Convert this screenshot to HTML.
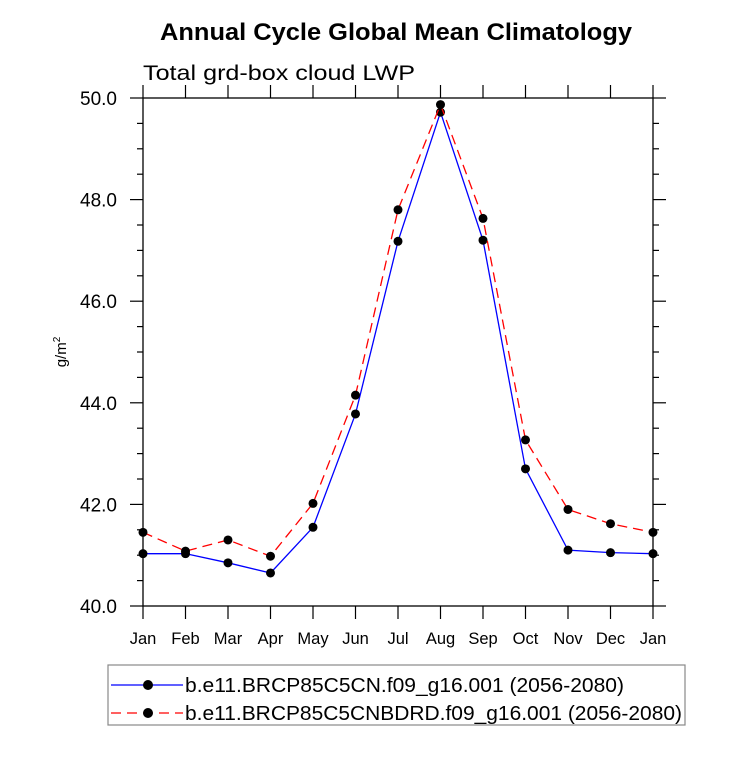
<!DOCTYPE html>
<html><head><meta charset="utf-8"><style>
body{margin:0;background:#fff}
svg text{font-family:"Liberation Sans",Arial,sans-serif}
</style></head><body>
<svg id="chart" width="733" height="754" xmlns="http://www.w3.org/2000/svg">
<text x="160" y="40" textLength="472" lengthAdjust="spacingAndGlyphs" font-size="24" font-weight="bold">Annual Cycle Global Mean Climatology</text>
<text x="143" y="80" textLength="272" lengthAdjust="spacingAndGlyphs" font-size="21">Total grd-box cloud LWP</text>
<text transform="translate(66,352) rotate(-90)" text-anchor="middle" font-size="15">g/m<tspan dy="-6" font-size="10">2</tspan></text>
<g id="axes"></g><g id="series"></g>
<rect x="108" y="665" width="577" height="60" fill="none" stroke="#888" stroke-width="1.2"/>
<g>
<line x1="111" y1="685" x2="183" y2="685" stroke="#0000ff" stroke-width="1.3"/>
<circle cx="148" cy="685" r="5" fill="#000"/>
<text x="185" y="692" textLength="439" lengthAdjust="spacingAndGlyphs" font-size="20">b.e11.BRCP85C5CN.f09_g16.001 (2056-2080)</text></g>
<g>
<line x1="111" y1="713" x2="183" y2="713" stroke="#ff0000" stroke-width="1.3" stroke-dasharray="10,6"/>
<circle cx="148" cy="713" r="5" fill="#000"/>
<text x="185" y="720" textLength="497" lengthAdjust="spacingAndGlyphs" font-size="20">b.e11.BRCP85C5CNBDRD.f09_g16.001 (2056-2080)</text></g>
</svg>
<script>
const months=["Jan","Feb","Mar","Apr","May","Jun","Jul","Aug","Sep","Oct","Nov","Dec","Jan"];
const blueVals=[41.03,41.03,40.85,40.65,41.55,43.78,47.18,49.72,47.2,42.7,41.1,41.05,41.03];
const redVals=[41.45,41.08,41.3,40.98,42.02,44.15,47.8,49.87,47.63,43.27,41.9,41.62,41.45];
const yTicks=[40,42,44,46,48,50];
const NS="http://www.w3.org/2000/svg";
const L=143,R=653,T=98,B=606,ymin=40,ymax=50;
const xs=i=>L+i*(R-L)/12;
const ys=v=>B-(v-ymin)/(ymax-ymin)*(B-T);
function mk(tag,attrs,parent){const e=document.createElementNS(NS,tag);for(const k in attrs)e.setAttribute(k,attrs[k]);parent.appendChild(e);return e;}
const ax=document.getElementById('axes');
const fr=mk('rect',{x:L,y:T,width:R-L,height:B-T,fill:'none',stroke:'#000','stroke-width':1.3},ax);


months.forEach((m,i)=>{const x=xs(i);
mk('line',{x1:x,y1:B,x2:x,y2:B+13,stroke:'#000','stroke-width':1.2},ax);
mk('line',{x1:x,y1:T,x2:x,y2:T-13,stroke:'#000','stroke-width':1.2},ax);
const t=mk('text',{x:x,y:B+38,'text-anchor':'middle','font-size':16.5},ax);t.textContent=m;

});
for(let v=ymin;v<=ymax+1e-9;v+=0.5){const y=ys(v);const major=Math.abs(v%2)<1e-9;const len=major?13:6;
mk('line',{x1:L-len,y1:y,x2:L,y2:y,stroke:'#000','stroke-width':1.2},ax);
mk('line',{x1:R,y1:y,x2:R+len,y2:y,stroke:'#000','stroke-width':1.2},ax);}
yTicks.forEach(v=>{const t=mk('text',{x:L-26,y:ys(v)+7,'text-anchor':'end','font-size':19},ax);t.textContent=v.toFixed(1);

});
const sg=document.getElementById('series');
function series(vals,color,dash,name){const g=mk('g',{},sg);


const pts=vals.map((v,i)=>xs(i)+','+ys(v)).join(' ');
const a={points:pts,fill:'none',stroke:color,'stroke-width':1.3};if(dash)a['stroke-dasharray']=dash;mk('polyline',a,g);
vals.forEach((v,i)=>{const c=mk('circle',{cx:xs(i),cy:ys(v),r:4.5,fill:'#000'},g);

});}
series(blueVals,'#0000ff',null,'series-cn');
series(redVals,'#ff0000','10,6','series-cnbdrd');
</script>
</body></html>
